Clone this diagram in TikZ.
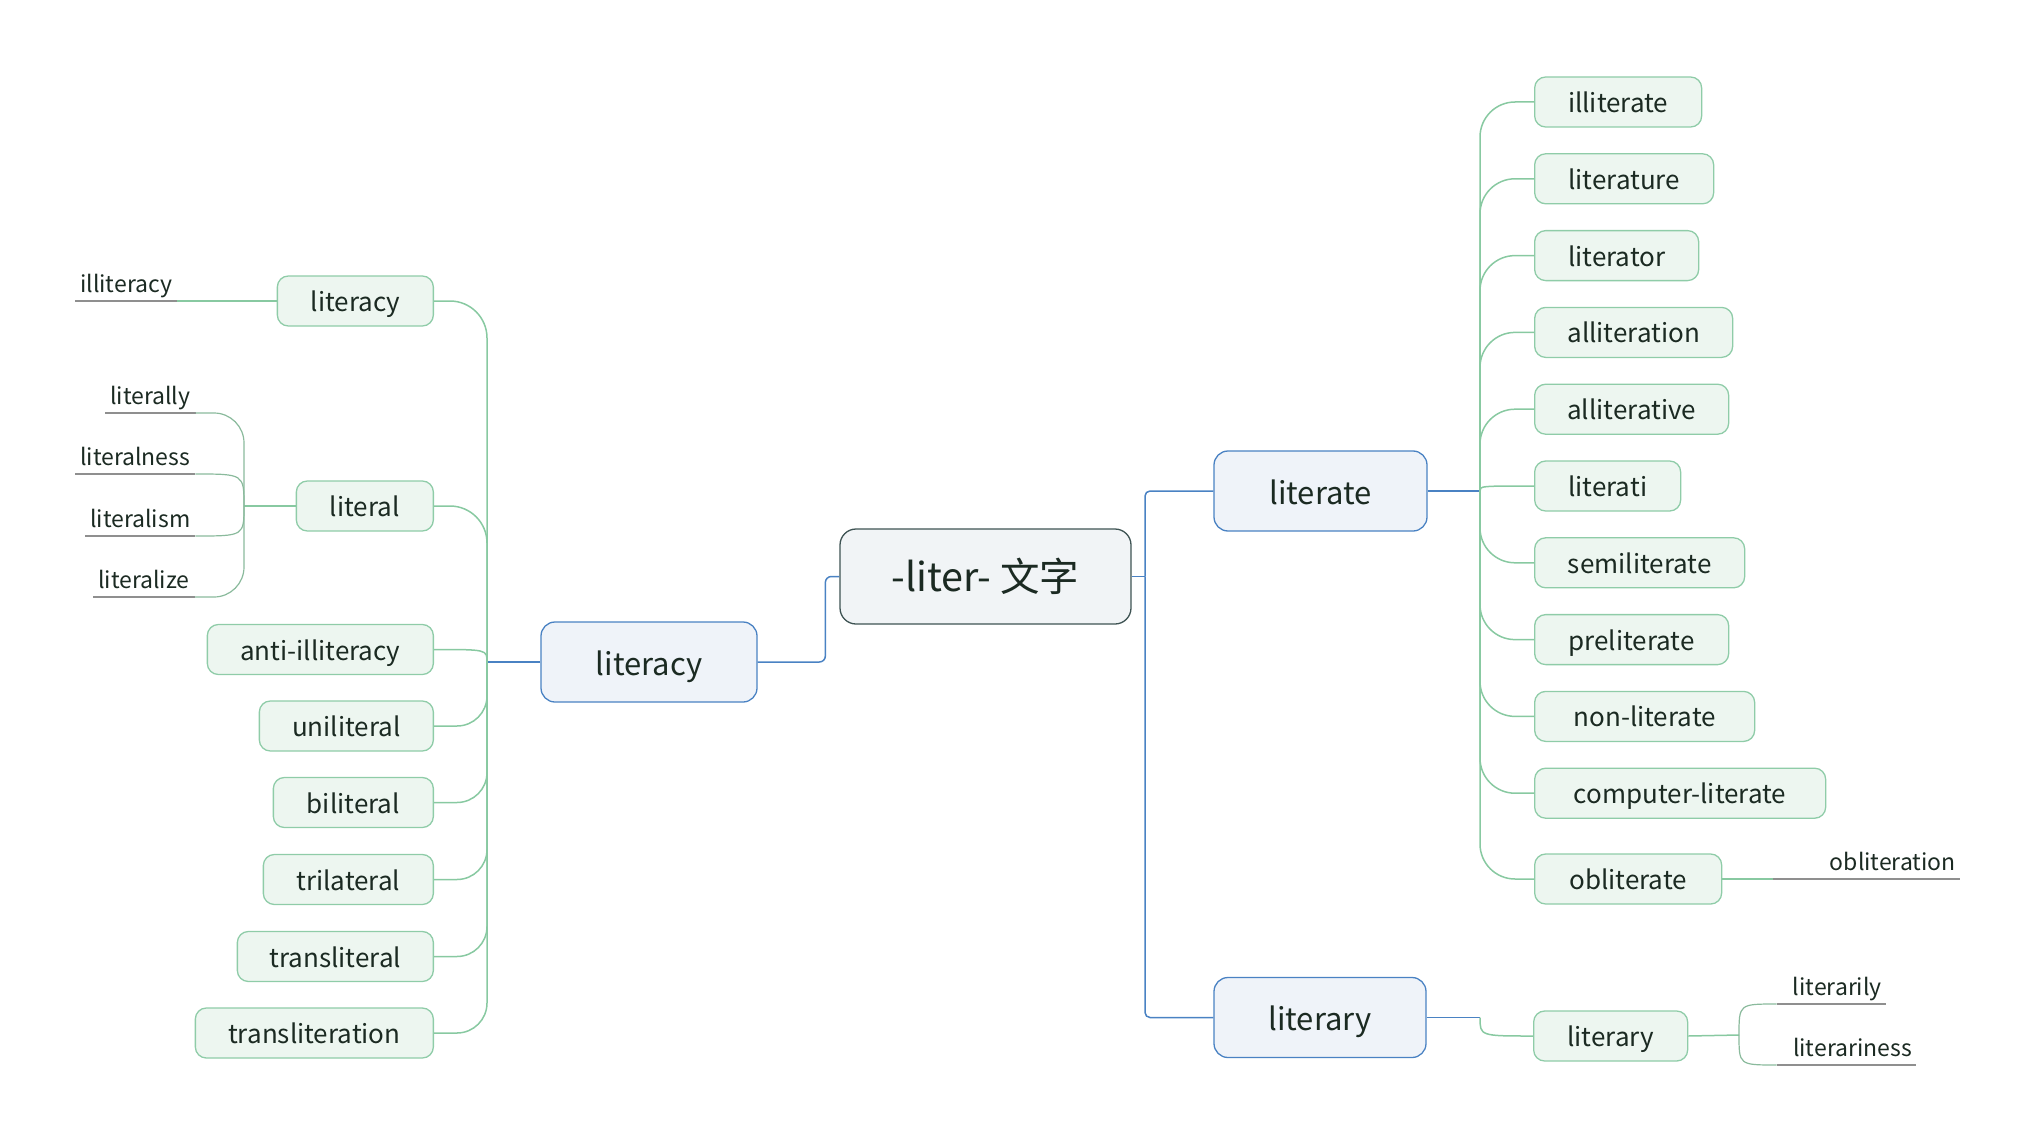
\documentclass[tikz,border=0pt]{standalone}
\usepackage{fontspec}
\setmainfont{Noto Sans CJK SC}
\definecolor{txt}{HTML}{1B2A22}
\definecolor{gline}{HTML}{88C9A1}
\definecolor{gfill}{HTML}{EDF6F0}
\definecolor{gborder}{HTML}{8FCCA8}
\definecolor{bline}{HTML}{4A82C3}
\definecolor{bfill}{HTML}{EFF3F9}
\definecolor{cfill}{HTML}{F1F4F6}
\definecolor{cborder}{HTML}{3E5353}
\definecolor{uline}{HTML}{8F8F8F}
\begin{document}
\begin{tikzpicture}[x=1pt,y=-1pt,
  centerbox/.style={rectangle, rounded corners=16pt, draw=cborder, fill=cfill, line width=1.3pt,
    minimum width=291pt, minimum height=95pt, text=txt, text height=29pt, text depth=0pt,
    font=\fontsize{39.5}{47}\selectfont},
  mainbox/.style={rectangle, rounded corners=14pt, draw=bline, fill=bfill, line width=1.3pt,
    minimum height=80pt, text=txt, text height=26pt, text depth=0pt,
    font=\fontsize{31}{37}\selectfont},
  subbox/.style={rectangle, rounded corners=11pt, draw=gborder, fill=gfill, line width=1.3pt,
    minimum height=50pt, text=txt, text height=21pt, text depth=0pt,
    font=\fontsize{26}{31}\selectfont},
  leaf/.style={inner xsep=5pt, inner ysep=2pt, text height=17pt, text depth=6pt, text=txt,
    font=\fontsize{23}{28}\selectfont},
  bconn/.style={draw=bline, line width=1.5pt},
  gconn/.style={draw=gline, line width=1.5pt},
  lconn/.style={draw=gline!75!uline, line width=1.2pt},
  ul/.style={draw=uline, line width=1.3pt}
]
\useasboundingbox (0,0) rectangle (2036,1142);

% central
\node[centerbox] (center) at (985.5,576.5) {-liter- 文字};

% level 1
\node[mainbox, minimum width=216pt] (lcy) at (649,662) {literacy};
\node[mainbox, minimum width=213pt] (lte) at (1320.5,491) {literate};
\node[mainbox, minimum width=212pt] (lry) at (1320,1017.5) {literary};

% junctions
\coordinate (JC) at (1145,576.5);
\coordinate (JL) at (487,662);
\coordinate (JR) at (1480,491);
\coordinate (JY) at (1480,1017.5);

% left level 2
\node[subbox, anchor=east, minimum width=156pt] (a1) at (434,301) {literacy};
\node[subbox, anchor=east, minimum width=137pt] (a2) at (434,506) {literal};
\node[subbox, anchor=east, minimum width=226pt] (a3) at (434,649.5) {anti-illiteracy};
\node[subbox, anchor=east, minimum width=174pt] (a4) at (434,726) {uniliteral};
\node[subbox, anchor=east, minimum width=160pt] (a5) at (434,802.5) {biliteral};
\node[subbox, anchor=east, minimum width=170pt] (a6) at (434,879.5) {trilateral};
\node[subbox, anchor=east, minimum width=196pt] (a7) at (434,956.5) {transliteral};
\node[subbox, anchor=east, minimum width=238pt] (a8) at (434,1033) {transliteration};

% right level 2 (literate)
\node[subbox, anchor=west, minimum width=167pt] (b1) at (1534,102) {illiterate};
\node[subbox, anchor=west, minimum width=179pt] (b2) at (1534,178.8) {literature};
\node[subbox, anchor=west, minimum width=164pt] (b3) at (1534,255.6) {literator};
\node[subbox, anchor=west, minimum width=198pt] (b4) at (1534,332.4) {alliteration};
\node[subbox, anchor=west, minimum width=194pt] (b5) at (1534,409.2) {alliterative};
\node[subbox, anchor=west, minimum width=146pt] (b6) at (1534,486) {literati};
\node[subbox, anchor=west, minimum width=210pt] (b7) at (1534,562.8) {semiliterate};
\node[subbox, anchor=west, minimum width=194pt] (b8) at (1534,639.6) {preliterate};
\node[subbox, anchor=west, minimum width=220pt] (b9) at (1534,716.4) {non-literate};
\node[subbox, anchor=west, minimum width=291pt] (b10) at (1534,793.2) {computer-literate};
\node[subbox, anchor=west, minimum width=187pt] (b11) at (1534,879) {obliterate};

% right level 2 (literary)
\node[subbox, anchor=west, minimum width=154pt] (c1) at (1533,1036) {literary};

% leaves
\node[leaf, anchor=south west] (d1) at (75,301) {illiteracy};
\node[leaf, anchor=south west] (d2) at (105,413) {literally};
\node[leaf, anchor=south west] (d3) at (75,474) {literalness};
\node[leaf, anchor=south west] (d4) at (85,536) {literalism};
\node[leaf, anchor=south west] (d5) at (93,597) {literalize};
\node[leaf, anchor=south east, inner xsep=4pt, text width=179pt, align=right] (e1) at (1960,879) {obliteration};
\node[leaf, anchor=south east, inner xsep=4pt, text width=101pt, align=right] (e2) at (1886,1004) {literarily};
\node[leaf, anchor=south east, inner xsep=4pt, text width=131pt, align=right] (e3) at (1916,1065) {literariness};

\coordinate (JM) at (244,506);
\coordinate (JN) at (1739,1035);

% underlines
\foreach \n in {d1,d2,d3,d4,d5,e1,e2,e3}
  \draw[ul] (\n.south west) -- (\n.south east);

% center connectors
\draw[bconn, rounded corners=6pt] (center.west) -- ++(-14,0) |- (lcy.east);
\draw[bconn] (center.east) -- (JC);
\draw[bconn, rounded corners=5pt] (JC) |- (lte.west);
\draw[bconn, rounded corners=5pt] (JC) |- (lry.west);

% level1 to junctions
\draw[bconn] (lcy.west) -- (JL);
\draw[bconn] (lte.east) -- (JR);
\draw[bconn] (lry.east) -- (JY);

% left level 2 connectors
\draw[gconn, rounded corners=37pt] (JL) |- (a1.east);
\draw[gconn, rounded corners=37pt] (JL) |- (a2.east);
\draw[gconn] (JL) .. controls (JL |- a3.east) .. (a3.east);
\foreach \n in {a4,a5,a6,a7,a8}
  \draw[gconn, rounded corners=30pt] (JL) |- (\n.east);

% right level 2 connectors
\foreach \n in {b1,b2,b3,b4,b5,b7,b8,b9,b10,b11}
  \draw[gconn, rounded corners=35pt] (JR) |- (\n.west);
\draw[gconn] (JR) .. controls (JR |- b6.west) .. (b6.west);
\draw[gconn] (JY) .. controls (JY |- c1.west) .. (c1.west);

% leaf connectors
\draw[gconn] (a1.west) -- (d1.south east);
\draw[gconn] (a2.west) -- (JM);
\draw[lconn, rounded corners=30pt] (JM) |- (d2.south east);
\draw[lconn] (JM) .. controls (JM |- d3.south east) .. (d3.south east);
\draw[lconn] (JM) .. controls (JM |- d4.south east) .. (d4.south east);
\draw[lconn, rounded corners=30pt] (JM) |- (d5.south east);
\draw[gconn] (b11.east) -- (e1.south west);
\draw[gconn] (c1.east) -- (JN);
\draw[lconn] (JN) .. controls (JN |- e2.south west) .. (e2.south west);
\draw[lconn] (JN) .. controls (JN |- e3.south west) .. (e3.south west);
\end{tikzpicture}
\end{document}
